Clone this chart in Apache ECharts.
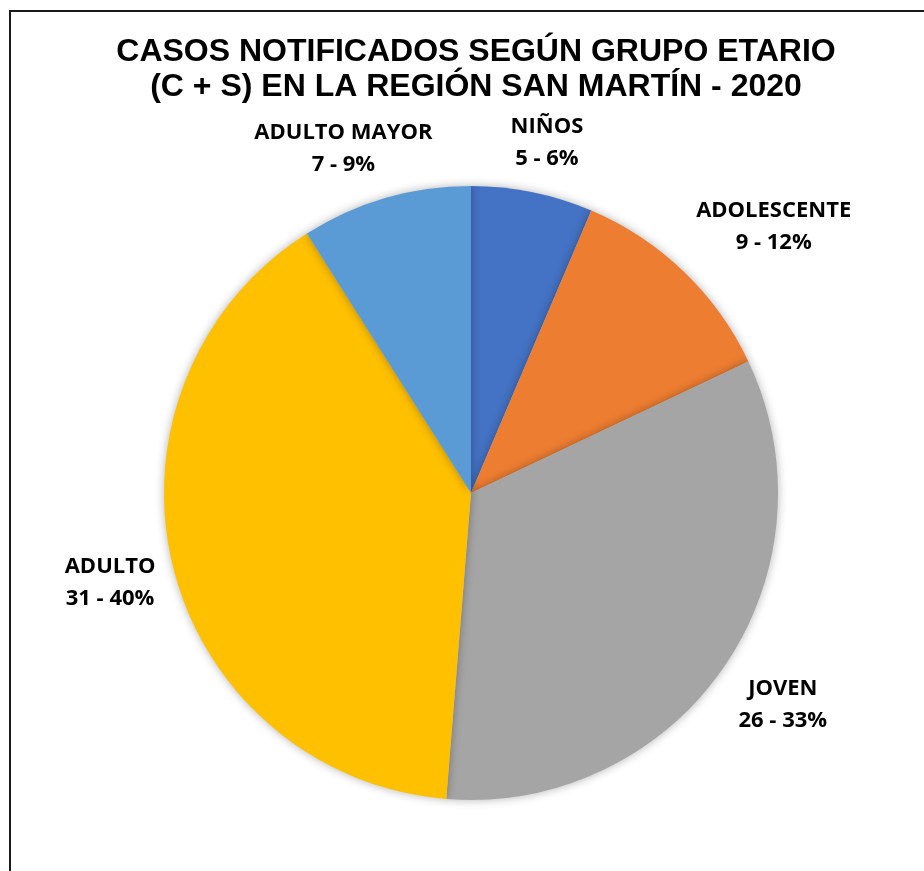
<!DOCTYPE html>
<html>
<head>
<meta charset="utf-8">
<script src="https://cdn.jsdelivr.net/npm/echarts@6/dist/echarts.min.js"></script>
<style>
  html, body { margin: 0; padding: 0; background: #fff; }
  #chart { width: 924px; height: 871px; }
</style>
</head>
<body>
<div id="chart"></div>
<script>
// Datos del gráfico
const grupos = ['NIÑOS', 'ADOLESCENTE', 'JOVEN', 'ADULTO', 'ADULTO MAYOR'];
const casos = [5, 9, 26, 31, 7];
const colores = ['#4472C4', '#ED7D31', '#A5A5A5', '#FFC000', '#5B9BD5'];

const centro = [471, 493];
const radio = 307;
const total = casos.reduce((a, b) => a + b, 0);

// angulo medio de cada sector (desde arriba, sentido horario)
let acum = 0;
const angulos = casos.map(v => {
    const mid = (acum + v / 2) / total * 2 * Math.PI;
    acum += v;
    return mid;
});

function recorte(v) {
    return Math.max(-1, Math.min(1, v * 1.5));
}

const chart = echarts.init(document.getElementById('chart'));
let option = {
    backgroundColor: '#fff',
    title: {
        text: 'CASOS NOTIFICADOS SEGÚN GRUPO ETARIO\n(C + S) EN LA REGIÓN SAN MARTÍN - 2020',
        left: centro[0],
        top: 30,
        textAlign: 'center',
        textStyle: {
            fontFamily: 'Liberation Sans',
            fontWeight: 'bold',
            fontSize: 32,
            lineHeight: 35,
            color: '#000'
        }
    },
    graphic: [{
        type: 'rect',
        shape: { x: 10, y: 11, width: 960, height: 920 },
        style: { fill: 'none', stroke: '#1a1a1a', lineWidth: 2 },
        silent: true
    }],
    series: [{
        type: 'pie',
        center: centro,
        radius: radio,
        startAngle: 90,
        clockwise: true,
        data: grupos.map((g, i) => ({ name: g, value: casos[i], itemStyle: { color: colores[i] } })),
        itemStyle: {
            shadowBlur: 10,
            shadowColor: 'rgba(0,0,0,0.3)'
        },
        label: {
            show: true,
            position: 'outside',
            formatter: p => p.name + '\n' + p.value + ' - ' + Math.round(p.percent) + '%',
            fontFamily: 'Open Sans',
            fontWeight: 'bold',
            fontSize: 22,
            lineHeight: 32,
            color: '#000',
            align: 'center'
        },
        labelLine: { show: false },
        labelLayout: function (params) {
            const a = angulos[params.dataIndex];
            const ux = Math.sin(a);
            const uy = -Math.cos(a);
            const w = params.labelRect.width;
            const h = params.labelRect.height;
            const d = radio + 18;
            return {
                x: centro[0] + d * ux + recorte(ux) * w / 2,
                y: centro[1] + d * uy + recorte(uy) * h / 2,
                align: 'center',
                verticalAlign: 'middle'
            };
        },
        emphasis: { disabled: true },
        animation: false
    }]
};
chart.setOption(option);
</script>
</body>
</html>
